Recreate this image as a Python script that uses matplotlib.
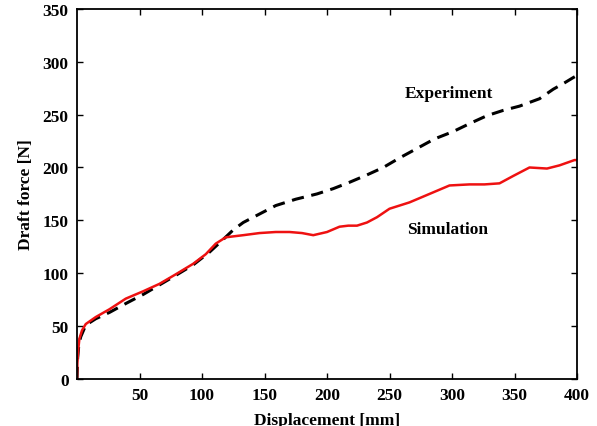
import numpy as np
import matplotlib
matplotlib.use("Agg")
import matplotlib.pyplot as plt

# Data
exp_x = [0, 0.5, 1.5, 3, 7, 15, 26, 40, 53, 66, 79, 93, 106, 117, 125, 133, 146, 159, 175, 192, 205, 218, 232, 245, 258, 272, 286, 301, 315, 328, 341, 354, 370, 381, 390, 397, 400]
exp_y = [0, 20, 33, 40, 51, 57, 63, 72, 80, 89, 98, 108, 120, 132, 141, 148, 156, 164, 170, 175, 180, 186, 193, 200, 209, 218, 227, 234, 242, 249, 254, 258, 265, 274, 280, 285, 287]

sim_x = [0, 0.3, 1, 1.9, 4, 7, 15, 26, 39, 53, 66, 79, 93, 103, 111, 119, 133, 146, 159, 170, 180, 189, 200, 210, 217, 224, 232, 240, 250, 266, 282, 298, 314, 326, 338, 349, 362, 376, 386, 398, 400]
sim_y = [0, 15, 28, 38, 46, 52, 58.6, 66, 76, 83, 90, 99, 109, 118, 128, 134, 136, 138, 139, 139, 138, 136, 139, 144, 145, 145, 148, 153, 161, 167, 175, 183, 184, 184, 185, 192, 200, 199, 202, 207, 207]

xticks = [50, 100, 150, 200, 250, 300, 350, 400]
yticks = [0, 50, 100, 150, 200, 250, 300, 350]

plt.rcParams['font.family'] = ['Liberation Serif', 'DejaVu Serif']

fig = plt.figure(figsize=(5.97, 4.27), dpi=100)
ax = fig.add_axes([0.129, 0.110, 0.8375, 0.867])

ax.plot(exp_x, exp_y, color='black', lw=2.2, linestyle=(0, (4, 2.5)))
ax.plot(sim_x, sim_y, color='#ee1111', lw=1.8, solid_joinstyle='round')

ax.set_xlim(0, 400)
ax.set_ylim(0, 350)
ax.set_xticks(xticks)
ax.set_yticks(yticks)
ax.tick_params(direction='in', top=True, right=True, length=4, width=1, labelsize=12.5, pad=6)
for lbl in ax.get_xticklabels() + ax.get_yticklabels():
    lbl.set_fontweight('bold')
for s in ax.spines.values():
    s.set_linewidth(1.3)

ax.set_xlabel('Displacement [mm]', fontsize=12.5, fontweight='bold', labelpad=6)
ax.set_ylabel('Draft force [N]', fontsize=12.5, fontweight='bold', labelpad=6)

ax.text(262, 270, 'Experiment', fontsize=12.5, fontweight='bold', ha='left', va='center')
ax.text(264, 142, 'Simulation', fontsize=12.5, fontweight='bold', ha='left', va='center')

fig.savefig('out.png', dpi=100)
